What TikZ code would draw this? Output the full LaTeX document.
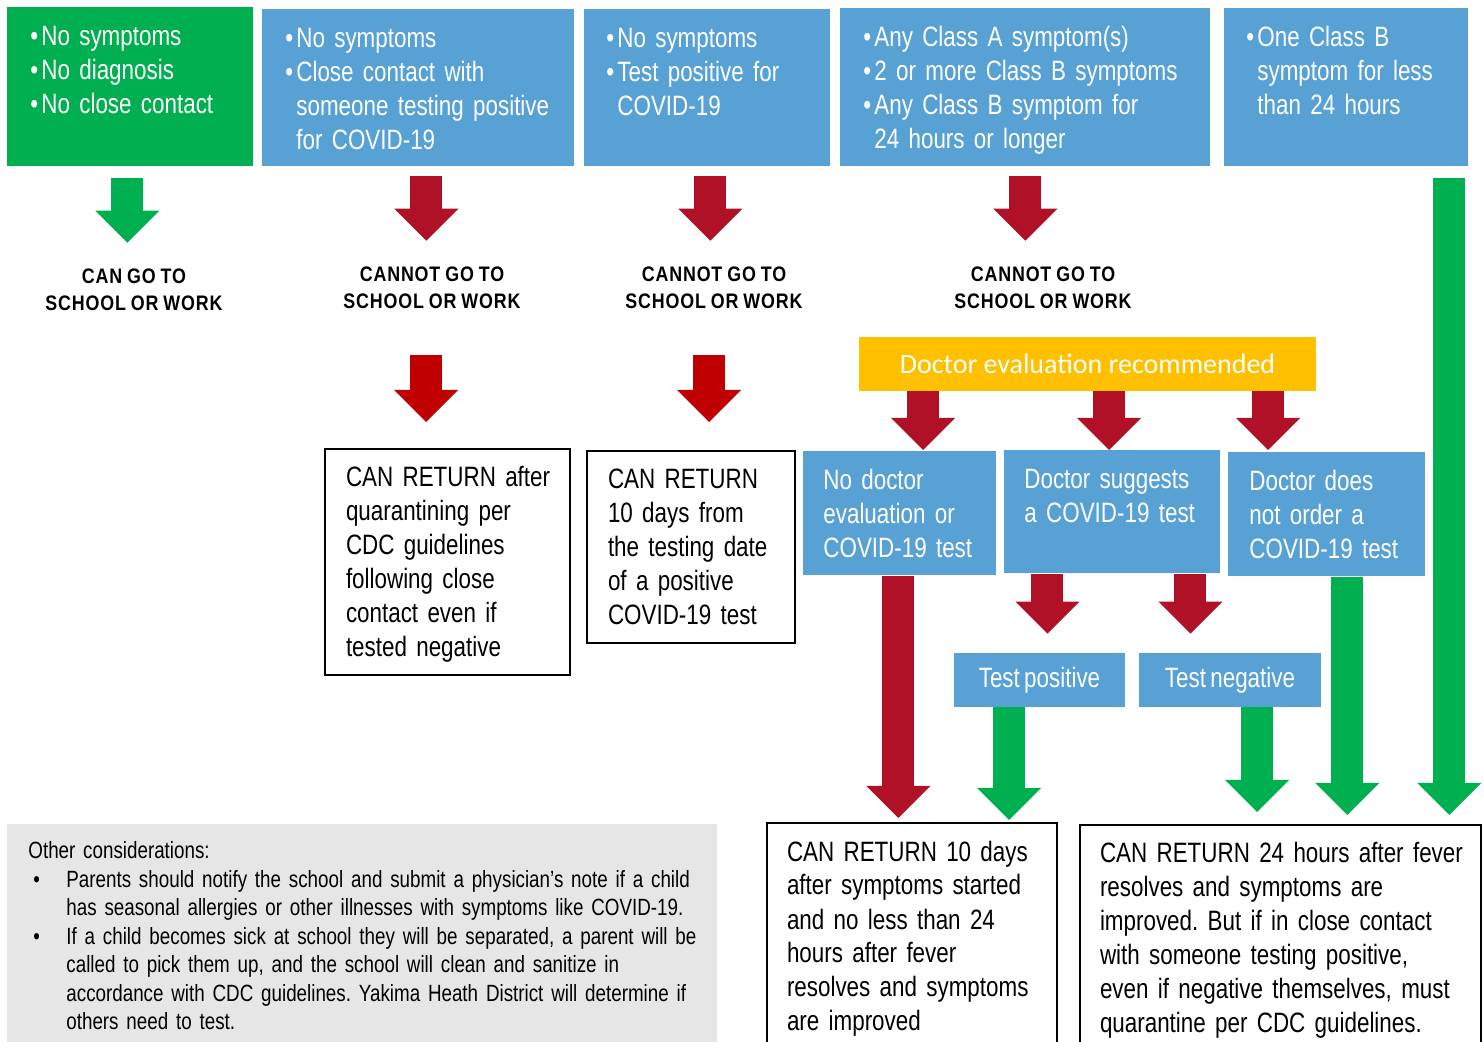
\documentclass[tikz,border=0pt]{standalone}
\usepackage{fontspec}
\setmainfont[FakeStretch=0.80,WordSpace=0.7]{Liberation Sans}
\newfontfamily\labfont[FakeStretch=0.85,LetterSpace=4,WordSpace=0.85]{Liberation Sans}
\newfontfamily\docfont{Carlito}
\usetikzlibrary{arrows.meta, positioning, calc}

\definecolor{okgreen}{RGB}{0,176,80}
\definecolor{stepblue}{RGB}{88,161,213}
\definecolor{stopred}{RGB}{176,17,38}
\definecolor{brightred}{RGB}{192,0,0}
\definecolor{docyellow}{RGB}{255,192,0}
\definecolor{notegray}{RGB}{231,230,230}

\newcommand\blt{\makebox[5.5pt][l]{•}}
\newcommand\bltgap{\hspace*{5.5pt}}

\tikzset{
  panel/.style={anchor=north west, align=left, inner ysep=8pt, text height=11pt,
    font=\fontsize{14}{17}\selectfont},
  cond/.style={panel, fill=stepblue, text=white},
  result/.style={panel, draw=black, line width=1pt, fill=white},
  testbox/.style={fill=stepblue, text=white, minimum height=27pt, inner sep=0pt,
    font=\fontsize{14}{17}\selectfont},
  verdict/.style={align=center, inner sep=0pt,
    font=\labfont\bfseries\fontsize{10.5}{13.5}\selectfont},
  bigarrow/.style={line width=16pt, -{Triangle[line width=0pt, length=16pt, width=32pt]}},
  stoparrow/.style={bigarrow, stopred},
  waitarrow/.style={bigarrow, brightred},
  goarrow/.style={bigarrow, okgreen},
}

\begin{document}
\frenchspacing
\hyphenpenalty=10000
\exhyphenpenalty=10000
\begin{tikzpicture}[x=0.5pt, y=-0.5pt]
  \useasboundingbox (0,0) rectangle (1484,1042);

  % conditions along the top
  \node[panel, fill=okgreen, text=white, inner xsep=11.5pt, text width=100pt, text depth=52.5pt] (g1) at (7,7)
    {\blt No symptoms\\\blt No diagnosis\\\blt No close contact};
  \node[cond, inner xsep=11.5pt, text width=133pt, text depth=51.5pt] (b2) at (262,9)
    {\blt No symptoms\\\blt Close contact with\\\bltgap\mbox{someone testing positive}\\\bltgap for COVID-19};
  \node[cond, inner xsep=11pt, text width=101pt, text depth=51.5pt] (b3) at (584,9)
    {\blt No symptoms\\\blt Test positive for\\\bltgap COVID-19};
  \node[cond, inner xsep=11.5pt, text width=162pt, text depth=52pt] (b4) at (840,8)
    {\blt Any Class A symptom(s)\\\blt 2 or more Class B symptoms\\\blt Any Class B symptom for\\\bltgap 24 hours or longer};
  \node[cond, inner xsep=11pt, text width=100pt, text depth=52pt] (b5) at (1224,8)
    {\blt One Class B\\\bltgap symptom for less\\\bltgap than 24 hours};

  % go / no go
  \node[verdict] (lab1) at (134,290) {CAN GO TO\\SCHOOL OR WORK};
  \node[verdict] (lab2) at (432,288) {CANNOT GO TO\\SCHOOL OR WORK};
  \node[verdict] (lab3) at (714,288) {CANNOT GO TO\\SCHOOL OR WORK};
  \node[verdict] (lab4) at (1043,288) {CANNOT GO TO\\SCHOOL OR WORK};

  % return rules
  \node[result, inner xsep=10.5pt, text width=101.5pt, text depth=86pt] (ret1) at (324,448)
    {\mbox{CAN RETURN after}\\quarantining per\\CDC guidelines\\following close\\contact even if\\tested negative};
  \node[result, inner xsep=10.5pt, text width=83pt, text depth=69pt] (ret2) at (586,450)
    {CAN RETURN\\10 days from\\the testing date\\of a positive\\COVID-19 test};

  % doctor branch
  \node[fill=docyellow, text=white, minimum width=228.5pt, minimum height=27pt, inner sep=0pt,
    font=\docfont\fontsize{14}{17}\selectfont] (doc) at (1087.5,364) {Doctor evaluation recommended};
  \node[cond, inner xsep=10pt, text width=76.5pt, text depth=35pt] (nd) at (803,451)
    {No doctor\\evaluation or\\\mbox{COVID-19 test}};
  \node[cond, inner xsep=10pt, text width=88pt, text depth=34.5pt] (ds) at (1004,450)
    {Doctor suggests\\a COVID-19 test};
  \node[cond, inner xsep=10.5pt, text width=77.5pt, text depth=35pt] (dn) at (1228,452)
    {Doctor does\\not order a\\\mbox{COVID-19 test}};
  \node[testbox, minimum width=85.5pt] (tp) at (1039.5,680) {Test positive};
  \node[testbox, minimum width=91pt] (tn) at (1230,680) {Test negative};

  % bottom row
  \node[panel, fill=notegray, inner xsep=10.5pt, text width=334pt, text height=9.25pt, text depth=87.75pt,
    font=\fontsize{11.75}{14.25}\selectfont] (notes) at (7,824)
    {Other considerations:\\
     \hspace*{2.5pt}\makebox[16.5pt][l]{•}\mbox{Parents should notify the school and submit a physician’s note if a child}\\
     \hspace*{19pt}\mbox{has seasonal allergies or other illnesses with symptoms like COVID-19.}\\
     \hspace*{2.5pt}\makebox[16.5pt][l]{•}\mbox{If a child becomes sick at school they will be separated, a parent will be}\\
     \hspace*{19pt}\mbox{called to pick them up, and the school will clean and sanitize in}\\
     \hspace*{19pt}\mbox{accordance with CDC guidelines. Yakima Heath District will determine if}\\
     \hspace*{19pt}others need to test.};
  \node[result, inner xsep=10pt, text width=125pt, text depth=87pt] (rb1) at (766,822)
    {CAN RETURN 10 days\\after symptoms started\\and no less than 24\\hours after fever\\resolves and symptoms\\are improved};
  \node[result, inner xsep=10pt, text width=180.5pt, text depth=86pt] (rb2) at (1079,824)
    {\mbox{CAN RETURN 24 hours after fever}\\resolves and symptoms are\\improved. But if in close contact\\with someone testing positive,\\even if negative themselves, must\\quarantine per CDC guidelines.};

  % arrow columns
  \coordinate (a1) at ([xshift=-1.5pt]g1.south);
  \coordinate (a2) at ([xshift=4pt]b2.south);
  \coordinate (a3) at ([xshift=1.5pt]b3.south);
  \coordinate (a4) at (b4.south);
  \coordinate (a5) at ([xshift=-3pt]lab2.south);
  \coordinate (a6) at ([xshift=-2.5pt]lab3.south);
  \coordinate (d1) at ([xshift=-82.25pt]doc.south);
  \coordinate (d2) at ([xshift=10.75pt]doc.south);
  \coordinate (d3) at ([xshift=90.25pt]doc.south);
  \coordinate (n1) at ([xshift=-0.75pt]nd.south);
  \coordinate (s1) at ([xshift=-32.5pt]ds.south);
  \coordinate (s2) at ([xshift=39pt]ds.south);
  \coordinate (p1) at ([xshift=-15.25pt]tp.south);
  \coordinate (q1) at ([xshift=13.5pt]tn.south);
  \coordinate (r1) at ([xshift=10.25pt]dn.south);
  \coordinate (l1) at ([xshift=51.5pt]b5.south);

  \draw[goarrow, shorten <=5.5pt, shorten >=13pt] (a1) -- (a1 |- lab1.north);
  \draw[stoparrow, shorten <=4.5pt, shorten >=13pt] (a2) -- (a2 |- lab2.north);
  \draw[stoparrow, shorten <=4.5pt, shorten >=13pt] (a3) -- (a3 |- lab3.north);
  \draw[stoparrow, shorten <=4.5pt, shorten >=13pt] (a4) -- (a4 |- lab4.north);
  \draw[waitarrow, shorten <=23pt, shorten >=13pt] (a5) -- (a5 |- ret1.north);
  \draw[waitarrow, shorten <=23pt, shorten >=14pt] (a6) -- (a6 |- ret2.north);
  \draw[stoparrow, shorten >=0.5pt] (d1) -- (d1 |- nd.north);
  \draw[stoparrow] (d2) -- (d2 |- ds.north);
  \draw[stoparrow, shorten >=1pt] (d3) -- (d3 |- dn.north);
  \draw[stoparrow, shorten >=2pt] (n1) -- (n1 |- rb1.north);
  \draw[stoparrow, shorten >=9.5pt] (s1) -- (s1 |- tp.north);
  \draw[stoparrow, shorten >=9.5pt] (s2) -- (s2 |- tn.north);
  \draw[goarrow, shorten >=1pt] (p1) -- (p1 |- rb1.north);
  \draw[goarrow, shorten >=6pt] (q1) -- (q1 |- rb2.north);
  \draw[goarrow, shorten >=4.5pt] (r1) -- (r1 |- rb2.north);
  \draw[goarrow, shorten <=5.5pt, shorten >=4.5pt] (l1) -- (l1 |- rb2.north);
\end{tikzpicture}
\end{document}
